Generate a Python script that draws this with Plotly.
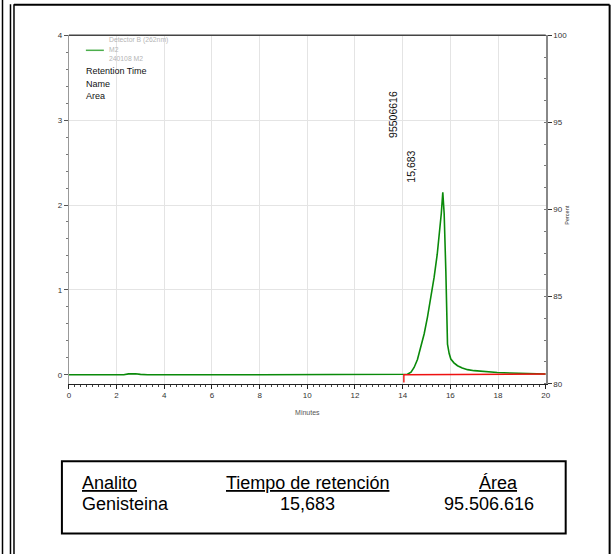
import plotly.graph_objects as go

# ---------------- data ----------------
time_min = [0.0, 2.3, 2.5, 2.65, 2.8, 3.0, 3.3, 8.0, 14.0, 14.2, 14.35, 14.48, 14.62, 14.76,
            14.9, 15.04, 15.18, 15.32, 15.45, 15.53, 15.62, 15.683, 15.74, 15.81, 15.88,
            15.95, 16.02, 16.15, 16.3, 16.5, 16.72, 17.0, 17.27, 17.6, 17.97, 18.5, 19.1, 19.6, 20.0]
signal = [0.0, 0.0, 0.01, 0.015, 0.012, 0.004, 0.0, 0.0, 0.0, 0.005, 0.03, 0.086, 0.18, 0.32,
          0.48, 0.68, 0.9, 1.15, 1.42, 1.62, 1.9, 2.15, 1.9, 1.23, 0.36,
          0.25, 0.185, 0.14, 0.106, 0.08, 0.06, 0.048, 0.04, 0.032, 0.027, 0.02, 0.015, 0.011, 0.008]
baseline_t = [14.05, 14.05, 20.0]
baseline_y = [-0.09, 0.0, 0.008]

x_ticks = [0, 2, 4, 6, 8, 10, 12, 14, 16, 18, 20]
left_ticks = [0, 1, 2, 3, 4]
right_ticks = [80, 85, 90, 95, 100]

legend_lines = ["Detector B (262nm)", "M2", "240108 M2"]
label_lines = ["Retention Time", "Name", "Area"]

peak_rt = 15.683
peak_rt_label = "15,683"
peak_area = 95506616

table_headers = ["Analito", "Tiempo de retención", "Área"]
table_analytes = ["Genisteina"]
table_rt = ["15,683"]
table_area = ["95.506.616"]

# ---------------- layout helpers ----------------
W, H = 613, 554
# the photographed page is slightly larger than the paper; compensate positions
SX, OX, SY, OY = 0.99, 1.0, 0.9825, 3.75
def px(x): return ((x - OX) / SX) / W
def py(y): return 1 - ((y - OY) / SY) / H

FONT = "Liberation Sans, Arial, sans-serif"
fig = go.Figure()

fig.add_trace(go.Scatter(x=time_min, y=signal, mode="lines",
                         line=dict(color="#0a8a0a", width=1.6), hoverinfo="skip"))
fig.add_trace(go.Scatter(x=baseline_t, y=baseline_y, mode="lines",
                         line=dict(color="#ee1111", width=1.4), hoverinfo="skip"))
fig.add_trace(go.Scatter(x=[20.05, 20.05], y=[0.01, 0.13], mode="lines",
                         line=dict(color="#4444dd", width=2), hoverinfo="skip"))
# invisible trace for right axis
fig.add_trace(go.Scatter(x=[0], y=[90], yaxis="y2", mode="markers",
                         marker=dict(opacity=0), hoverinfo="skip"))

xd = [px(68), px(545.5)]
yd = [py(383), py(35)]

fig.update_layout(
    width=W, height=H, autosize=False,
    margin=dict(l=0, r=0, t=0, b=0),
    paper_bgcolor="white", plot_bgcolor="white",
    showlegend=False,
    font=dict(family=FONT, color="#222", size=8),
    xaxis=dict(domain=xd, range=[0, 20], tickvals=x_ticks, ticks="outside", ticklen=4,
               tickcolor="#222", showline=True, linecolor="#222", linewidth=1.2,
               showgrid=True, gridcolor="#e4e4e4", gridwidth=1, zeroline=False,
               tickfont=dict(size=8, color="#333"),
               minor=dict(dtick=0.25, ticks="outside", ticklen=2, tickcolor="#444", showgrid=False),
               title=dict(text="Minutes", font=dict(size=7, color="#555"), standoff=10)),
    yaxis=dict(domain=yd, range=[-0.106, 4], tickvals=left_ticks, ticks="outside", ticklen=4,
               tickcolor="#555", showline=True, linecolor="#999", linewidth=1,
               showgrid=True, gridcolor="#e4e4e4", zeroline=False,
               tickfont=dict(size=8, color="#333"),
               minor=dict(dtick=0.2, ticks="outside", ticklen=2, tickcolor="#777", showgrid=False)),
    yaxis2=dict(overlaying="y", side="right", range=[80, 100], tickvals=right_ticks,
                ticks="outside", ticklen=4, tickcolor="#333", showline=True,
                linecolor="#888", linewidth=2, showgrid=False, zeroline=False,
                tickfont=dict(size=8, color="#333"),
                minor=dict(dtick=1.25, ticks="inside", ticklen=2, tickcolor="#777", showgrid=False)),
)

shapes = []
# outer frame
shapes.append(dict(type="line", xref="paper", yref="paper", x0=px(1.5), x1=px(1.5), y0=py(560), y1=py(-5),
                   line=dict(color="black", width=1.5)))
shapes.append(dict(type="line", xref="paper", yref="paper", x0=px(9.5), x1=px(9.5), y0=py(560), y1=py(4),
                   line=dict(color="black", width=1.5)))
shapes.append(dict(type="line", xref="paper", yref="paper", x0=px(13), x1=px(13), y0=py(560), y1=py(4),
                   line=dict(color="black", width=1.5)))
shapes.append(dict(type="line", xref="paper", yref="paper", x0=px(13), x1=px(609.5), y0=py(4.5), y1=py(4.5),
                   line=dict(color="black", width=2)))
shapes.append(dict(type="line", xref="paper", yref="paper", x0=px(609.5), x1=px(609.5), y0=py(560), y1=py(4.5),
                   line=dict(color="black", width=2)))
# top border of the plot
shapes.append(dict(type="line", xref="paper", yref="paper", x0=xd[0], x1=xd[1], y0=yd[1], y1=yd[1],
                   line=dict(color="#444", width=1.5)))
# legend sample line
shapes.append(dict(type="line", xref="paper", yref="paper", x0=px(85), x1=px(103), y0=py(50), y1=py(50),
                   line=dict(color="#4cae4c", width=1.5)))
# table box
shapes.append(dict(type="rect", xref="paper", yref="paper", x0=px(61), x1=px(565.5), y0=py(460.5), y1=py(532.5),
                   line=dict(color="black", width=2)))
fig.update_layout(shapes=shapes)

ann = []
for i, t in enumerate(legend_lines):
    ann.append(dict(xref="paper", yref="paper", x=px(106), y=py(40 + 9 * i), text=t, showarrow=False,
                    xanchor="left", yanchor="middle", font=dict(size=6.8, color="#b5b5b5", family=FONT)))
for i, t in enumerate(label_lines):
    ann.append(dict(xref="paper", yref="paper", x=px(83.5), y=py(71 + 12.5 * i), text=t, showarrow=False,
                    xanchor="left", yanchor="middle", font=dict(size=9, color="#111", family=FONT)))
# peak labels
ann.append(dict(x=peak_rt - 2.1, y=3.07, text=str(peak_area), textangle=-90, showarrow=False,
                xanchor="center", yanchor="middle", font=dict(size=10.5, color="#111", family=FONT)))
ann.append(dict(x=peak_rt - 1.34, y=2.45, text=peak_rt_label, textangle=-90, showarrow=False,
                xanchor="center", yanchor="middle", font=dict(size=10.5, color="#111", family=FONT)))
# right axis title
ann.append(dict(xref="paper", yref="paper", x=px(566), y=py(215), text="Percent", textangle=-90,
                showarrow=False, xanchor="center", yanchor="middle",
                font=dict(size=5.5, color="#333", family=FONT)))

# table
tf = dict(size=18, color="black", family=FONT)
ann.append(dict(xref="paper", yref="paper", x=px(79.5), y=py(482), text="<u>" + table_headers[0] + "</u>",
                showarrow=False, xanchor="left", yanchor="middle", font=tf))
ann.append(dict(xref="paper", yref="paper", x=px(306.5), y=py(482), text="<u>" + table_headers[1] + "</u>",
                showarrow=False, xanchor="center", yanchor="middle", font=tf))
ann.append(dict(xref="paper", yref="paper", x=px(520), y=py(482), text="<u>" + table_headers[2] + "</u>",
                showarrow=False, xanchor="right", yanchor="middle", font=tf))
for i in range(len(table_analytes)):
    yy = py(503 + 20 * i)
    ann.append(dict(xref="paper", yref="paper", x=px(79.5), y=yy, text=table_analytes[i],
                    showarrow=False, xanchor="left", yanchor="middle", font=tf))
    ann.append(dict(xref="paper", yref="paper", x=px(307), y=yy, text=table_rt[i],
                    showarrow=False, xanchor="center", yanchor="middle", font=tf))
    ann.append(dict(xref="paper", yref="paper", x=px(536), y=yy, text=table_area[i],
                    showarrow=False, xanchor="right", yanchor="middle", font=tf))
fig.update_layout(annotations=ann)

fig.write_html("out.html", config={"displayModeBar": False},
               post_script="document.body.style.margin='0';document.body.style.overflow='hidden';")
